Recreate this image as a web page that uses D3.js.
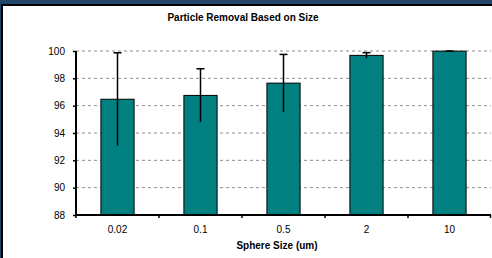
<!DOCTYPE html>
<html lang="en">
<head>
    <title>Particle Removal</title>
    <script src="https://cdn.jsdelivr.net/npm/d3@7"></script>
    <style>
        body { margin: 0; background: white; }
        text { font-family: "Liberation Sans", Arial, sans-serif; }
    </style>
</head>
<body>
    <div id="chart"></div>
    <script>
        // data
        var sizes = ["0.02", "0.1", "0.5", "2", "10"];
        var removal = [96.47, 96.75, 97.65, 99.68, 99.99];
        var errors = [3.4, 1.95, 2.1, 0.2, 0.02];
        var yTicks = [88, 90, 92, 94, 96, 98, 100];

        var W = 492, H = 258;
        var margin = { top: 51, right: 1, bottom: 43, left: 76 };
        var width = W - margin.left - margin.right,
            height = H - margin.top - margin.bottom;

        var svg = d3.select("#chart").append("svg")
            .attr("width", W)
            .attr("height", H);

        // frame bands at top and left
        svg.append("rect").attr("x", 0).attr("y", 0).attr("width", W).attr("height", 4).attr("fill", "#22466a");
        svg.append("rect").attr("x", 0).attr("y", 4).attr("width", W).attr("height", 2).attr("fill", "#000");
        svg.append("rect").attr("x", 0).attr("y", 0).attr("width", 1).attr("height", H).attr("fill", "#22466a");
        svg.append("rect").attr("x", 1).attr("y", 4).attr("width", 2).attr("height", H).attr("fill", "#000");

        var g = svg.append("g")
            .attr("transform", "translate(" + margin.left + "," + margin.top + ")");

        var x = d3.scaleBand().domain(sizes).range([0, width]).paddingInner(0.6).paddingOuter(0.3);
        var y = d3.scaleLinear().domain([88, 100]).range([height, 0]);

        // dashed gridlines
        g.selectAll(".grid")
            .data(yTicks.filter(function(d) { return d > 88; }))
            .enter().append("line")
            .attr("x1", 0).attr("x2", width)
            .attr("y1", function(d) { return y(d); })
            .attr("y2", function(d) { return y(d); })
            .attr("stroke", "#8c8c8c")
            .attr("stroke-width", 1)
            .attr("stroke-dasharray", "3,3");

        // bars
        g.selectAll(".bar")
            .data(removal)
            .enter().append("rect")
            .attr("x", function(d, i) { return x(sizes[i]); })
            .attr("y", function(d) { return y(d); })
            .attr("width", x.bandwidth())
            .attr("height", function(d) { return height - y(d); })
            .attr("fill", "#008080")
            .attr("stroke", "#000")
            .attr("stroke-width", 1);

        // error bars, cap on top only
        var eb = g.selectAll(".err").data(removal).enter().append("g");
        eb.append("line")
            .attr("x1", function(d, i) { return x(sizes[i]) + x.bandwidth() / 2; })
            .attr("x2", function(d, i) { return x(sizes[i]) + x.bandwidth() / 2; })
            .attr("y1", function(d, i) { return y(d - errors[i]); })
            .attr("y2", function(d, i) { return y(Math.min(100, d + errors[i])); })
            .attr("stroke", "#000").attr("stroke-width", 1.5);
        eb.append("line")
            .attr("x1", function(d, i) { return x(sizes[i]) + x.bandwidth() / 2 - 4; })
            .attr("x2", function(d, i) { return x(sizes[i]) + x.bandwidth() / 2 + 4; })
            .attr("y1", function(d, i) { return y(Math.min(100, d + errors[i])); })
            .attr("y2", function(d, i) { return y(Math.min(100, d + errors[i])); })
            .attr("stroke", "#000").attr("stroke-width", 1.5);

        // y axis
        var yAxis = g.append("g")
            .call(d3.axisLeft(y).tickValues(yTicks).tickSize(3).tickPadding(8));
        yAxis.select(".domain").attr("stroke", "#000").attr("stroke-width", 2).attr("d", "M0," + height + "V0");
        yAxis.selectAll(".tick line").attr("stroke", "#000").attr("stroke-width", 1.5);
        yAxis.selectAll("text").attr("font-size", "10px").attr("fill", "#000");

        // x axis with ticks on band boundaries
        var xAxis = g.append("g").attr("transform", "translate(0," + height + ")");
        xAxis.append("line").attr("x1", -1).attr("x2", width).attr("y1", 0).attr("y2", 0)
            .attr("stroke", "#000").attr("stroke-width", 2);
        var bounds = sizes.map(function(s) { return x(s) - x.step() * 0.3; }).concat([width - 0.5]);
        xAxis.selectAll(".xt").data(bounds).enter().append("line")
            .attr("x1", function(d) { return d; }).attr("x2", function(d) { return d; })
            .attr("y1", 0).attr("y2", 3)
            .attr("stroke", "#000").attr("stroke-width", 1.5);
        xAxis.selectAll(".xl").data(sizes).enter().append("text")
            .attr("x", function(d) { return x(d) + x.bandwidth() / 2; })
            .attr("y", 18)
            .attr("text-anchor", "middle")
            .attr("font-size", "10px")
            .text(function(d) { return d; });

        // titles
        svg.append("text")
            .attr("x", 243).attr("y", 21)
            .attr("text-anchor", "middle")
            .attr("font-size", "10px").attr("font-weight", "bold")
            .text("Particle Removal Based on Size");
        svg.append("text")
            .attr("x", 277).attr("y", 249)
            .attr("text-anchor", "middle")
            .attr("font-size", "10px").attr("font-weight", "bold")
            .text("Sphere Size (um)");
    </script>
</body>
</html>
